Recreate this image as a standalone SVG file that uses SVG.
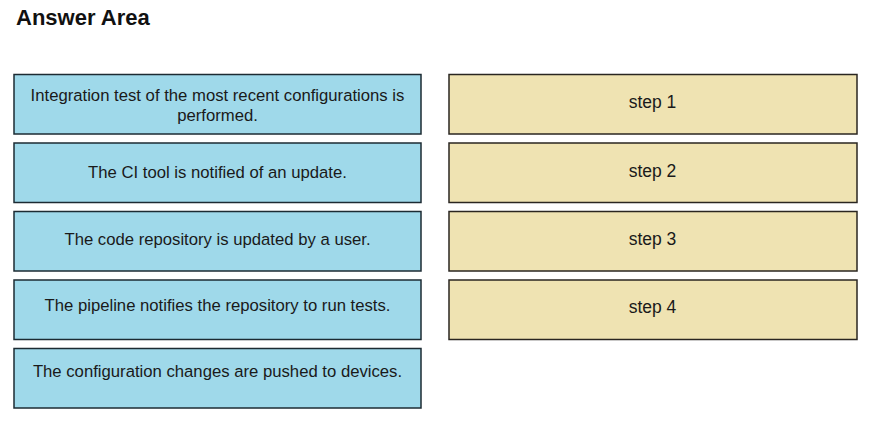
<svg xmlns="http://www.w3.org/2000/svg" width="875" height="422" viewBox="0 0 875 422">
<style>
.t{font-family:"Liberation Sans",Arial,sans-serif;font-size:16.7px;fill:#1a1a1a;text-anchor:middle}
.st{font-size:17.5px}
.b{fill:#9fd9ea;stroke:#1c2b33;stroke-width:1.5}
.s{fill:#efe3b2;stroke:#2a2620;stroke-width:1.5}
</style>
<rect width="875" height="422" fill="#ffffff"/>
<text x="16" y="25" font-family="Liberation Sans,Arial,sans-serif" font-size="22" font-weight="bold" fill="#111">Answer Area</text>
<g id="opt1"><rect class="b" x="14" y="74.5" width="407" height="59.5"/><text class="t" x="217.5" y="101">Integration test of the most recent configurations is</text><text class="t" x="217.5" y="121">performed.</text></g>
<g id="opt2"><rect class="b" x="14" y="143" width="407" height="59.5"/><text class="t" x="217.5" y="178">The CI tool is notified of an update.</text></g>
<g id="opt3"><rect class="b" x="14" y="211.5" width="407" height="59.5"/><text class="t" x="217.5" y="245">The code repository is updated by a user.</text></g>
<g id="opt4"><rect class="b" x="14" y="280" width="407" height="59.5"/><text class="t" x="217.5" y="311">The pipeline notifies the repository to run tests.</text></g>
<g id="opt5"><rect class="b" x="14" y="348.5" width="407" height="59.5"/><text class="t" x="217.5" y="377">The configuration changes are pushed to devices.</text></g>
<g id="step1"><rect class="s" x="449" y="74.5" width="408" height="59.5"/><text class="t st" x="652.5" y="108">step 1</text></g>
<g id="step2"><rect class="s" x="449" y="143" width="408" height="59.5"/><text class="t st" x="652.5" y="177">step 2</text></g>
<g id="step3"><rect class="s" x="449" y="211.5" width="408" height="59.5"/><text class="t st" x="652.5" y="245">step 3</text></g>
<g id="step4"><rect class="s" x="449" y="280" width="408" height="59.5"/><text class="t st" x="652.5" y="313">step 4</text></g>
<g id="connectors"></g>
</svg>
